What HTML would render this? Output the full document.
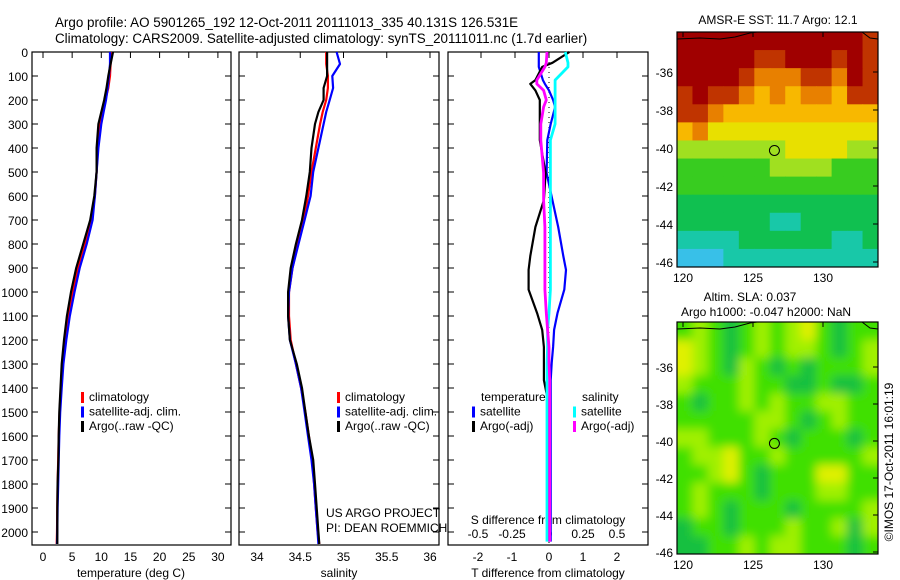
<!DOCTYPE html>
<html><head><meta charset="utf-8"><style>
html,body{margin:0;padding:0;background:#fff;}
svg{display:block;font-family:"Liberation Sans",sans-serif;}
</style></head><body>
<svg id="chart" width="900" height="580" viewBox="0 0 900 580">
<defs>
<filter id="blurSla" x="-5%" y="-5%" width="110%" height="110%"><feGaussianBlur stdDeviation="5"/></filter>
<clipPath id="clipSla"><rect x="677" y="322" width="201" height="232"/></clipPath>
<clipPath id="clipSst"><rect x="677" y="32" width="201" height="235"/></clipPath>
</defs>
<g id="root"></g>
</svg>
<script>
// ---- data ----
const depths = [0,50,100,150,200,250,300,400,500,600,700,800,900,1000,1100,1200,1300,1400,1500,1600,1700,1800,1900,2000,2050];
const tempArgo = [12.0,11.6,11.2,10.9,10.5,10.0,9.5,9.2,9.2,8.8,8.1,6.9,5.7,4.8,4.1,3.6,3.2,3.0,2.8,2.7,2.65,2.5,2.45,2.45,2.45];
const tempClim = [11.7,11.6,11.5,11.2,10.7,10.2,9.8,9.4,9.2,8.9,8.3,7.2,6.0,5.1,4.4,3.8,3.3,3.05,2.85,2.7,2.6,2.5,2.45,2.4,2.35];
const tempSat = [11.5,11.5,11.3,11.1,10.8,10.4,10.0,9.5,9.2,8.9,8.5,7.5,6.3,5.4,4.6,4.0,3.5,3.2,2.95,2.8,2.7,2.6,2.5,2.45,2.4];
const salArgo = [34.81,34.81,34.81,34.77,34.77,34.71,34.67,34.63,34.61,34.57,34.52,34.45,34.39,34.36,34.36,34.38,34.46,34.52,34.56,34.60,34.65,34.67,34.69,34.71,34.72];
const salClim = [34.80,34.80,34.82,34.82,34.80,34.76,34.73,34.68,34.63,34.59,34.54,34.47,34.41,34.37,34.37,34.39,34.45,34.51,34.56,34.60,34.64,34.66,34.68,34.70,34.72];
const salSat = [34.92,34.96,34.87,34.88,34.84,34.80,34.77,34.71,34.65,34.62,34.55,34.48,34.41,34.37,34.36,34.38,34.45,34.51,34.55,34.59,34.63,34.66,34.68,34.70,34.71];
const diffDepths = [0,45,62,117,133,160,200,229,300,367,504,617,729,850,908,990,1088,1158,1229,1296,1367,1438,1600,1800,2000,2040];
const dTSat = [-0.3,-0.3,-0.3,-0.18,-0.12,0.0,0.12,0.18,0.05,-0.05,-0.07,0.1,0.27,0.42,0.5,0.45,0.25,0.15,0.12,0.08,0.05,0.05,0.05,0.05,0.05,0.05];
const dTArgo = [0.6,0.1,-0.2,-0.4,-0.55,-0.4,-0.27,-0.27,-0.27,-0.27,-0.1,-0.15,-0.4,-0.55,-0.6,-0.6,-0.35,-0.2,-0.15,-0.15,-0.15,-0.05,0.0,0.0,0.0,0.0];
const dSSat = [0.12,0.14,0.14,0.045,0.045,0.045,0.045,0.045,0.045,0.01,0.01,0.01,0.01,0.01,0.01,0.01,0.0,-0.01,-0.01,-0.015,-0.015,-0.015,-0.015,-0.015,-0.015,-0.015];
const dSArgo = [-0.015,-0.02,-0.03,-0.09,-0.09,-0.04,-0.02,-0.04,-0.06,-0.06,-0.04,-0.04,-0.03,-0.03,-0.03,-0.03,-0.02,-0.01,0.0,0.0,0.005,0.005,0.005,0.005,0.005,0.005];
const depthTicks = [0,100,200,300,400,500,600,700,800,900,1000,1100,1200,1300,1400,1500,1600,1700,1800,1900,2000];
const tempTicks = [0,5,10,15,20,25,30];
const salTicks = [34,34.5,35,35.5,36];
const salTickLabels = ["34","34.5","35","35.5","36"];
const tdTicks = [-2,-1,0,1,2];
const sdTicks = [-0.5,-0.25,0,0.25,0.5];
const sdTickLabels = ["-0.5","-0.25","0","0.25","0.5"];
const latTicks = [-36,-38,-40,-42,-44,-46];
const lonTicks = [120,125,130];
const sstGrid = [
[9,9,9,9,9,9,9,9,9,9,9,9,8],
[9,9,9,9,9,8,8,9,9,9,8,9,8],
[9,9,9,9,8,7,7,7,8,8,7,9,8],
[8,9,8,8,7,6,7,6,7,7,6,8,8],
[8,8,7,6,6,6,6,6,6,6,6,6,6],
[6,7,5,5,5,5,5,5,5,5,5,5,5],
[4,4,4,4,4,4,4,5,5,5,5,4,4],
[3,3,3,3,3,3,4,4,4,4,3,3,3],
[3,3,3,3,3,3,3,3,3,3,3,3,3],
[2,2,2,2,2,2,2,2,2,2,2,2,2],
[2,2,2,2,2,2,1,1,2,2,2,2,2],
[1,1,1,1,2,2,2,2,2,2,1,1,2],
[0,0,0,1,1,1,1,1,1,1,1,1,1]];
const slaGrid = [
[1,2,1,0,1,2,1,2,3,1,0,1,1],
[3,2,1,0,1,2,1,2,2,1,0,1,2],
[3,2,1,0,2,1,0,1,0,1,1,1,2],
[2,1,1,1,2,1,1,0,0,1,0,0,1],
[1,0,1,1,2,1,2,1,1,2,2,1,1],
[1,1,1,1,1,2,2,1,0,1,2,1,1],
[2,2,1,1,1,2,1,0,1,1,1,0,1],
[1,2,2,3,1,1,2,1,1,1,1,1,2],
[1,1,2,3,1,0,1,1,1,3,3,1,1],
[1,2,1,1,1,0,1,1,1,2,2,1,1],
[1,2,1,0,1,1,1,0,1,1,1,1,2],
[0,1,1,0,1,1,1,2,1,1,2,0,2],
[0,0,1,1,2,1,2,2,1,1,1,0,1]];
const argoLon = 126.531, argoLat = -40.131;

const sstColors = ['#38c0e8','#18c8a8','#10c050','#38cc20','#a0e020','#e8e000','#f8b800','#e88000','#c03400','#a00000'];
const slaColors = ['#18c040','#40e000','#a0f000','#e0f000'];

const NS='http://www.w3.org/2000/svg';
const root=document.getElementById('root');
function el(tag,attrs,parent){const e=document.createElementNS(NS,tag);for(const k in attrs)e.setAttribute(k,attrs[k]);(parent||root).appendChild(e);return e;}
function txt(x,y,s,size,anchor,parent){const t=el('text',{x:x,y:y,'font-size':size,'text-anchor':anchor||'start',fill:'#000'},parent);t.textContent=s;return t;}

const yD = d => 52 + d*0.24;
const P1 = {l:32,r:231,x:v=>43+v*5.83};
const P2 = {l:239,r:439,x:v=>257+(v-34)*86.5};
const P3 = {l:448,r:648,x:v=>549+v*34, xs:v=>549+v*136};

let t;
t=txt(55,27,'Argo profile: AO 5901265_192 12-Oct-2011 20111013_335 40.131S 126.531E',13.4);

t=txt(55,43,'Climatology: CARS2009. Satellite-adjusted climatology: synTS_20111011.nc (1.7d earlier)',13.4);


function panelFrame(P,name){
  const g=el('g',{});
  
  
  el('rect',{x:P.l,y:52,width:P.r-P.l,height:493,fill:'none',stroke:'#000','stroke-width':1.2},g);
  depthTicks.forEach(d=>{
    el('line',{x1:P.l,x2:P.l+6,y1:yD(d),y2:yD(d),stroke:'#000'},g);
    el('line',{x1:P.r,x2:P.r-6,y1:yD(d),y2:yD(d),stroke:'#000'},g);
  });
  return g;
}
function series(P,fx,xs,ys,color,name,w){
  let d='';
  xs.forEach((v,i)=>{d+=(i?'L':'M')+fx(v).toFixed(1)+' '+yD(ys[i]).toFixed(1);});
  const p=el('path',{d:d,fill:'none',stroke:color,'stroke-width':w||2.2,'stroke-linejoin':'round'});
  
  
}
function legend(x,y,items,g){
  items.forEach((it,i)=>{
    el('rect',{x:x,y:y+i*14.5-9,width:3,height:11,fill:it[1]},g);
    txt(x+8,y+i*14.5,it[0],12,'start',g);
  });
}

let g1=panelFrame(P1,'temperature-panel');
depthTicks.forEach(d=>{txt(28,yD(d)+5,String(d),12,'end',g1);});
tempTicks.forEach(v=>{el('line',{x1:P1.x(v),x2:P1.x(v),y1:52,y2:58,stroke:'#000'},g1);txt(P1.x(v),561,String(v),12,'middle',g1);});
txt(131,577,'temperature (deg C)',12,'middle',g1);
series(P1,P1.x,tempClim,depths,'#ff0000','temp-climatology-line');
series(P1,P1.x,tempSat,depths,'#0000ff','temp-satellite-line');
series(P1,P1.x,tempArgo,depths,'#000000','temp-argo-line');
let lg1=el('g',{});
legend(81,401,[['climatology','#ff0000'],['satellite-adj. clim.','#0000ff'],['Argo(..raw -QC)','#000']],lg1);

let g2=panelFrame(P2,'salinity-panel');
salTicks.forEach((v,i)=>{el('line',{x1:P2.x(v),x2:P2.x(v),y1:52,y2:58,stroke:'#000'},g2);txt(P2.x(v),561,salTickLabels[i],12,'middle',g2);});
txt(339,577,'salinity',12,'middle',g2);
series(P2,P2.x,salClim,depths,'#ff0000','sal-climatology-line');
series(P2,P2.x,salSat,depths,'#0000ff','sal-satellite-line');
series(P2,P2.x,salArgo,depths,'#000000','sal-argo-line');
let lg2=el('g',{});
legend(337,401,[['climatology','#ff0000'],['satellite-adj. clim.','#0000ff'],['Argo(..raw -QC)','#000']],lg2);
t=txt(326,517,'US ARGO PROJECT',12);
t=txt(326,532,'PI: DEAN ROEMMICH',12);

let g3=panelFrame(P3,'difference-panel');
tdTicks.forEach(v=>{el('line',{x1:P3.x(v),x2:P3.x(v),y1:52,y2:58,stroke:'#000'},g3);txt(P3.x(v)+(v<0?-3:0),561,String(v),12,'middle',g3);});
sdTicks.forEach((v,i)=>{txt(P3.xs(v)+(v<0?-3:0),538,sdTickLabels[i],12,'middle',g3);});
txt(548,524,'S difference from climatology',12,'middle',g3);
txt(548,577,'T difference from climatology',12,'middle',g3);
el('line',{x1:P3.x(0),x2:P3.x(0),y1:52,y2:545,stroke:'#000','stroke-dasharray':'1 4'},g3);
series(P3,P3.x,dTSat,diffDepths,'#0000ff','tdiff-satellite-line');
series(P3,P3.x,dTArgo,diffDepths,'#000000','tdiff-argo-line');
series(P3,P3.xs,dSSat,diffDepths,'#00ffff','sdiff-satellite-line',2.8);
series(P3,P3.xs,dSArgo,diffDepths,'#ff00ff','sdiff-argo-line',2.8);
let lg3=el('g',{});
txt(481,401,'temperature',12,'start',lg3);
txt(582,401,'salinity',12,'start',lg3);
legend(472,415.5,[['satellite','#0000ff'],['Argo(-adj)','#000']],lg3);
legend(573,415.5,[['satellite','#00ffff'],['Argo(-adj)','#ff00ff']],lg3);

function drawMap(top,bot,grid,colors,name,y36,y46,clip,filt){
  const g=el('g',{});
  
  
  const L=677,R=878;
  const lon=v=>683+(v-120)*14;
  const lat=v=>y36+(-36-v)*(y46-y36)/10;
  const rows=grid.length, cols=grid[0].length;
  const cw=(R-L)/cols, ch=(bot-top)/rows;
  const cg=el('g',{'clip-path':'url(#'+clip+')'},g);
  const cells=el('g',filt?{filter:'url(#'+filt+')'}:{},cg);
  const pad=filt?12:0;
  grid.forEach((row,i)=>row.forEach((v,j)=>{
    let x=L+j*cw, y=top+i*ch, w=cw+0.6, h=ch+0.6;
    if(j===0){x-=pad;w+=pad;} if(j===cols-1){w+=pad;}
    if(i===0){y-=pad;h+=pad;} if(i===rows-1){h+=pad;}
    const c=el('rect',{x:x.toFixed(2),y:y.toFixed(2),width:w.toFixed(2),height:h.toFixed(2),fill:colors[v]},cells);
    
    
  }));
  el('path',{d:`M${L} ${top+7} L700 ${top+6} L720 ${top+7} L735 ${top+5} L750 ${top+1} L757 ${top} M862 ${top} L870 ${top+6} L878 ${top+7}`,fill:'none',stroke:'#000','stroke-width':1},g);
  el('rect',{x:L,y:top,width:R-L,height:bot-top,fill:'none',stroke:'#000','stroke-width':1.2},g);
  latTicks.forEach(v=>{el('line',{x1:R,x2:R-5,y1:lat(v),y2:lat(v),stroke:'#000'},g);txt(673,lat(v)+5,String(v),12,'end',g);});
  lonTicks.forEach(v=>{el('line',{x1:lon(v),x2:lon(v),y1:top,y2:top+5,stroke:'#000'},g);txt(lon(v),bot+15,String(v),12,'middle',g);});
  const m=el('circle',{cx:lon(argoLon),cy:lat(argoLat),r:5,fill:'none',stroke:'#000','stroke-width':1},g);
  
  
}
drawMap(32,267,sstGrid,sstColors,'sst-map',72,262,'clipSst',null);
drawMap(322,554,slaGrid,slaColors,'sla-map',367,552,'clipSla','blurSla');
t=txt(778,24,'AMSR-E SST: 11.7  Argo: 12.1',12,'middle');
t=txt(750,301,'Altim. SLA: 0.037',12,'middle');
t=txt(766,316,'Argo h1000: -0.047 h2000: NaN',12,'middle');
t=txt(0,0,'©IMOS 17-Oct-2011 16:01:19',12,'middle');
t.setAttribute('transform','translate(893,462) rotate(-90)');

</script>
</body></html>
